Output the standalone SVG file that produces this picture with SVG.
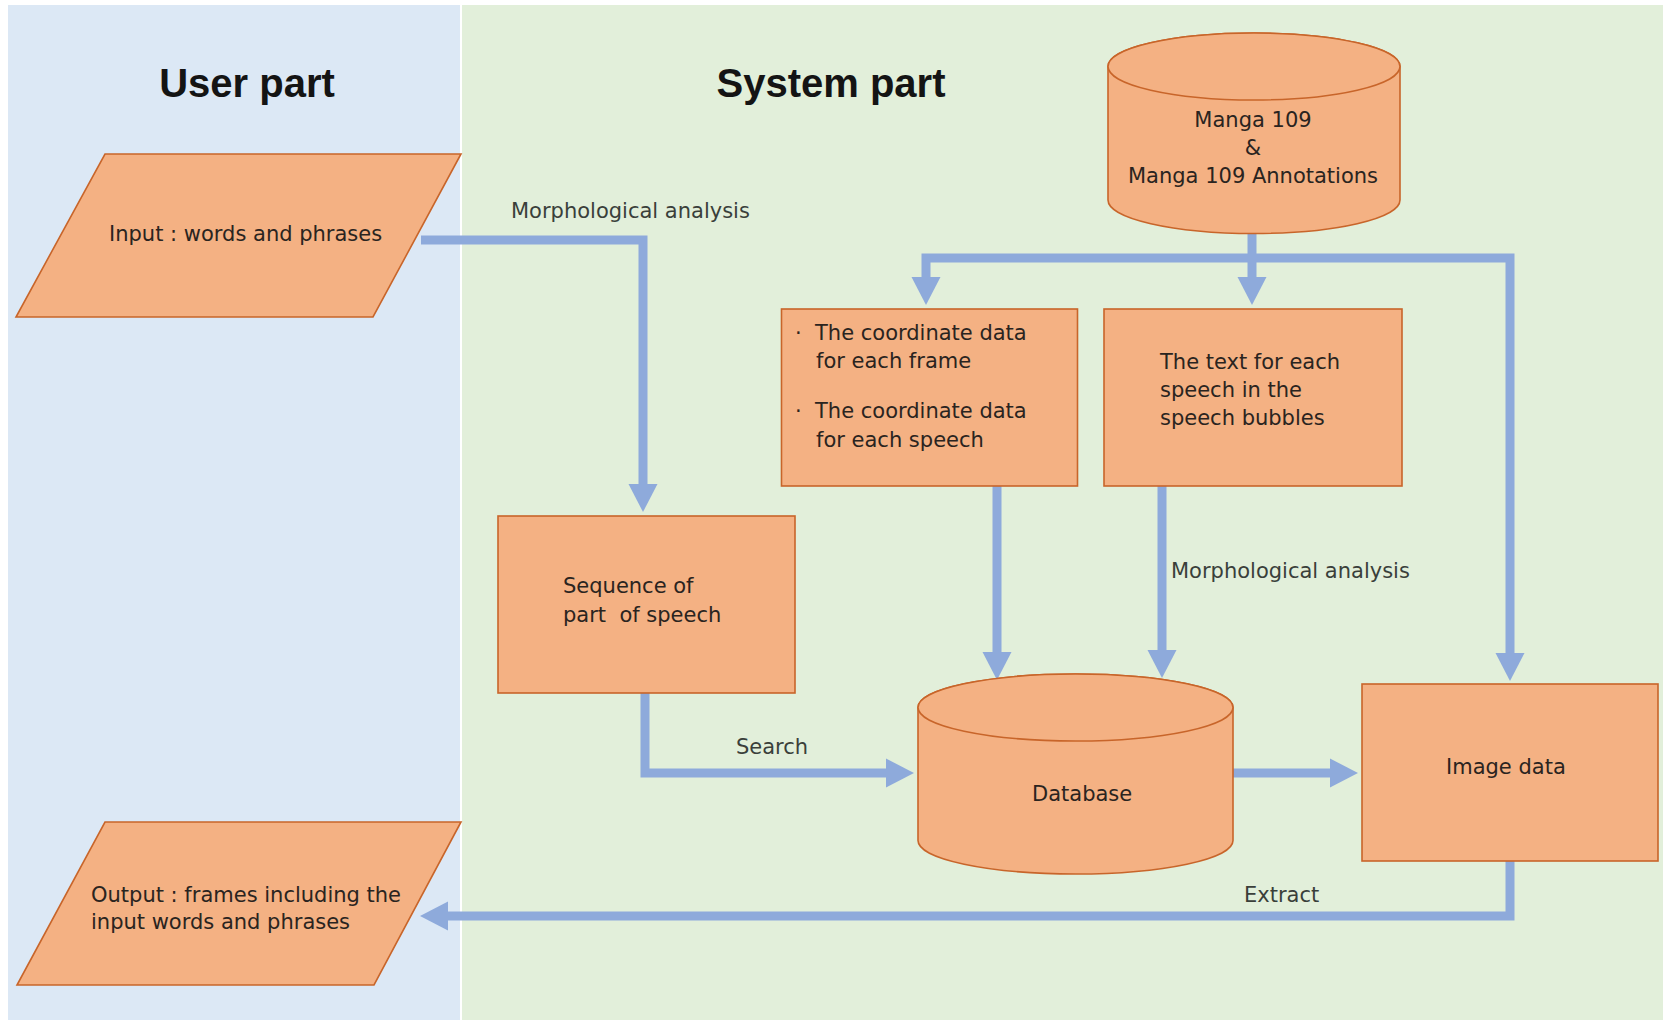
<svg xmlns="http://www.w3.org/2000/svg" width="1663" height="1020" viewBox="0 0 1663 1020">
  <style>
    .title { font-family: "Liberation Sans", Arial, sans-serif; font-size: 40px; font-weight: bold; fill: #141414; text-anchor: middle; }
    .txt { font-family: "DejaVu Sans", "Liberation Sans", sans-serif; font-size: 21px; fill: #2a2420; }
    .lbl { font-family: "DejaVu Sans", "Liberation Sans", sans-serif; font-size: 21px; fill: #3a3f3a; }
    .mid { text-anchor: middle; }
    .shape { fill: #f4b183; stroke: #c8652a; stroke-width: 1.6; }
    .conn { fill: none; stroke: #8eaadb; stroke-width: 9; stroke-linejoin: miter; }
  </style>
  <defs>
    <marker id="head" markerUnits="userSpaceOnUse" markerWidth="30" markerHeight="32" refX="1" refY="16" orient="auto">
      <path d="M0,1.5 L28,16 L0,30.5 Z" fill="#8eaadb"/>
    </marker>
  </defs>

  <!-- swimlane backgrounds -->
  <rect x="0" y="0" width="1663" height="1020" fill="#ffffff"/>
  <rect x="8" y="5" width="452" height="1015" fill="#dce8f5"/>
  <rect x="462" y="5" width="1201" height="1015" fill="#e2efda"/>
  <text class="title" x="247" y="97">User part</text>
  <text class="title" x="831" y="97">System part</text>

  <!-- connectors -->
  <g id="connectors">
    <path class="conn" d="M421,240 H643 V485" marker-end="url(#head)"/>
    <path class="conn" d="M1252,233 V278" marker-end="url(#head)"/>
    <path class="conn" d="M1252,258 H926 V278" marker-end="url(#head)"/>
    <path class="conn" d="M1252,258 H1510 V654" marker-end="url(#head)"/>
    <path class="conn" d="M997,486 V653" marker-end="url(#head)"/>
    <path class="conn" d="M1162,486 V651" marker-end="url(#head)"/>
    <path class="conn" d="M645,693 V773 H887" marker-end="url(#head)"/>
    <path class="conn" d="M1233,773 H1331" marker-end="url(#head)"/>
    <path class="conn" d="M1510,861 V916 H447" marker-end="url(#head)"/>
    <text class="lbl" x="511" y="218">Morphological analysis</text>
    <text class="lbl" x="1171" y="578">Morphological analysis</text>
    <text class="lbl" x="736" y="754">Search</text>
    <text class="lbl" x="1244" y="902">Extract</text>
  </g>

  <!-- input -->
  <g id="input">
    <polygon class="shape" points="105,154 461,154 373,317 16,317"/>
    <text class="txt" x="109" y="241">Input : words and phrases</text>
  </g>

  <!-- Manga109 source -->
  <g id="manga109">
    <path class="shape" d="M1108,66.5 A146,33.5 0 0 1 1400,66.5 V200 A146,33.5 0 0 1 1108,200 Z"/>
    <ellipse class="shape" cx="1254" cy="66.5" rx="146" ry="33.5"/>
    <text class="txt mid" x="1253" y="127">Manga 109</text>
    <text class="txt mid" x="1253" y="155">&amp;</text>
    <text class="txt mid" x="1253" y="183">Manga 109 Annotations</text>
  </g>

  <!-- coordinate data -->
  <g id="coordinates">
    <rect class="shape" x="781.5" y="309" width="296" height="177"/>
    <text class="txt"><tspan x="795" y="340">·</tspan><tspan x="815" y="340">The coordinate data</tspan><tspan x="816" y="368">for each frame</tspan><tspan x="795" y="418">·</tspan><tspan x="815" y="418">The coordinate data</tspan><tspan x="816" y="447">for each speech</tspan></text>
  </g>

  <!-- speech text -->
  <g id="speech-text">
    <rect class="shape" x="1104" y="309" width="298" height="177"/>
    <text class="txt"><tspan x="1160" y="369">The text for each</tspan><tspan x="1160" y="397">speech in the</tspan><tspan x="1160" y="425">speech bubbles</tspan></text>
  </g>

  <!-- part-of-speech sequence -->
  <g id="pos-sequence">
    <rect class="shape" x="498" y="516" width="297" height="177"/>
    <text class="txt" xml:space="preserve"><tspan x="563" y="593">Sequence of</tspan><tspan x="563" y="622">part  of speech</tspan></text>
  </g>

  <!-- database -->
  <g id="database">
    <path class="shape" d="M918,707.5 A157.5,33.5 0 0 1 1233,707.5 V840.5 A157.5,33.5 0 0 1 918,840.5 Z"/>
    <ellipse class="shape" cx="1075.5" cy="707.5" rx="157.5" ry="33.5"/>
    <text class="txt" x="1032" y="801">Database</text>
  </g>

  <!-- image data -->
  <g id="image-data">
    <rect class="shape" x="1362" y="684" width="296" height="177"/>
    <text class="txt" x="1446" y="774">Image data</text>
  </g>

  <!-- output -->
  <g id="output">
    <polygon class="shape" points="105,822 461,822 374,985 17,985"/>
    <text class="txt"><tspan x="91" y="902">Output : frames including the</tspan><tspan x="91" y="929">input words and phrases</tspan></text>
  </g>
</svg>
